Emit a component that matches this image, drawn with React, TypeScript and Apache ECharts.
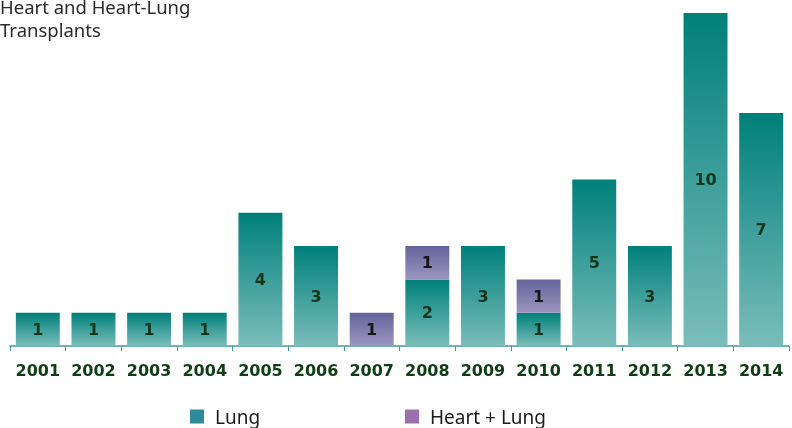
import React, { useEffect, useRef } from "react";
import * as echarts from "echarts";

const years = ["2001","2002","2003","2004","2005","2006","2007","2008","2009","2010","2011","2012","2013","2014"];
const lung = [1,1,1,1,4,3,0,2,3,1,5,3,10,7];
const heartLung = [0,0,0,0,0,0,1,1,0,1,0,0,0,0];
const titleLines = ["Heart and Heart-Lung", "Transplants"];

export default function App() {
  const ref = useRef<HTMLDivElement>(null);
  useEffect(() => {
    const chart = echarts.init(ref.current!, null, { renderer: "svg" });
    const labelFmt = (p: any) => (p.value ? String(p.value) : "");
    const legendText = { fontFamily: "Noto Sans", fontSize: 19, color: "#1a1a1a", padding: [0, 0, 0, 6] };
    chart.setOption({
      animation: false,
      grid: { left: 10, right: 3, top: 13, bottom: 82, containLabel: false },
      graphic: titleLines.map((t, i) => ({
        type: "text",
        left: 0,
        top: -3 + i * 23,
        style: {
          text: t,
          font: "18.5px 'Noto Sans'",
          fill: "#2a2a2a",
        },
      })),
      legend: [
        {
          data: [{ name: "Lung", itemStyle: { color: "#2f8a9b" } }],
          left: 190,
          top: 407,
          padding: 0,
          itemWidth: 14,
          itemHeight: 14,
          icon: "rect",
          textStyle: legendText,
        },
        {
          data: [{ name: "Heart + Lung", itemStyle: { color: "#9b6fab" } }],
          left: 405,
          top: 407,
          padding: 0,
          itemWidth: 14,
          itemHeight: 14,
          icon: "rect",
          textStyle: legendText,
        },
      ],
      xAxis: {
        type: "category",
        data: years,
        axisLine: { lineStyle: { color: "#3f9d9b", width: 1.5 } },
        axisTick: { show: true, interval: 0, length: 5, lineStyle: { color: "#3f9d9b" } },
        axisLabel: {
          interval: 0,
          fontFamily: "DejaVu Sans",
          fontWeight: "bold",
          fontSize: 16,
          color: "#0e3d16",
          margin: 16,
        },
      },
      yAxis: {
        type: "value",
        min: 0,
        max: 10,
        show: false,
        splitLine: { show: false },
      },
      series: [
        {
          name: "Lung",
          type: "bar",
          stack: "t",
          data: lung,
          barWidth: "79%",
          itemStyle: {
            color: new echarts.graphic.LinearGradient(0, 0, 0, 1, [
              { offset: 0, color: "#00807a" },
              { offset: 1, color: "#7abdbb" },
            ]),
          },
          label: {
            show: true,
            position: "inside",
            formatter: labelFmt,
            fontFamily: "DejaVu Sans",
            fontWeight: "bold",
            fontSize: 16,
            color: "#12361a",
          },
        },
        {
          name: "Heart + Lung",
          type: "bar",
          stack: "t",
          data: heartLung,
          barWidth: "79%",
          itemStyle: {
            color: new echarts.graphic.LinearGradient(0, 0, 0, 1, [
              { offset: 0, color: "#63649b" },
              { offset: 1, color: "#9c95bf" },
            ]),
          },
          label: {
            show: true,
            position: "inside",
            formatter: labelFmt,
            fontFamily: "DejaVu Sans",
            fontWeight: "bold",
            fontSize: 16,
            color: "#151515",
          },
        },
      ],
    });
    return () => chart.dispose();
  }, []);
  return <div ref={ref} style={{ width: 792, height: 428, position: "fixed", left: 0, top: 0 }} />;
}
